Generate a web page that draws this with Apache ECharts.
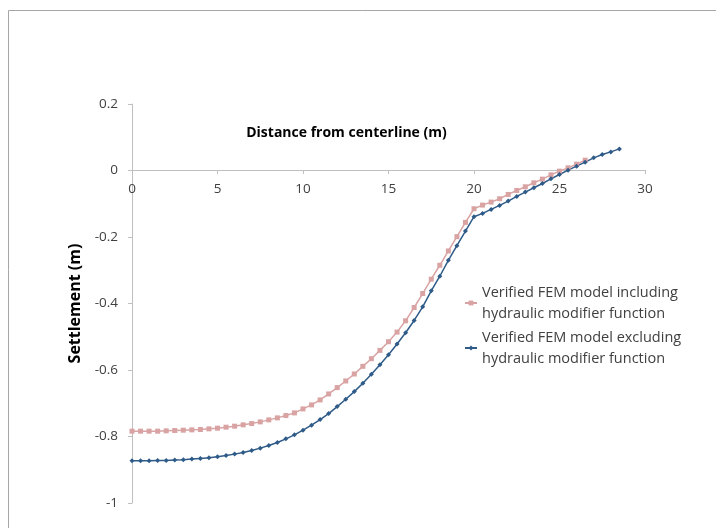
<!DOCTYPE html>
<html>
<head>
<meta charset="utf-8">
<script src="https://cdn.jsdelivr.net/npm/echarts@6/dist/echarts.min.js"></script>
<style>
html,body{margin:0;padding:0;background:#fff;}
#c{width:716px;height:528px;}
</style>
</head>
<body>
<div id="c"></div>
<script>
var xIncl = [0,0.5,1,1.5,2,2.5,3,3.5,4,4.5,5,5.5,6,6.5,7,7.5,8,8.5,9,9.5,10,10.5,11,11.5,12,12.5,13,13.5,14,14.5,15,15.5,16,16.5,17,17.5,18,18.5,19,19.5,20,20.5,21,21.5,22,22.5,23,23.5,24,24.5,25,25.5,26,26.5];
var yIncl = [-0.784,-0.784,-0.784,-0.784,-0.783,-0.782,-0.781,-0.780,-0.779,-0.777,-0.775,-0.772,-0.769,-0.765,-0.761,-0.756,-0.750,-0.744,-0.737,-0.729,-0.717,-0.705,-0.690,-0.672,-0.653,-0.633,-0.612,-0.589,-0.566,-0.541,-0.515,-0.486,-0.452,-0.412,-0.370,-0.327,-0.285,-0.242,-0.199,-0.156,-0.115,-0.104,-0.095,-0.085,-0.072,-0.060,-0.049,-0.037,-0.026,-0.013,-0.002,0.008,0.019,0.031];
var xExcl = [0,0.5,1,1.5,2,2.5,3,3.5,4,4.5,5,5.5,6,6.5,7,7.5,8,8.5,9,9.5,10,10.5,11,11.5,12,12.5,13,13.5,14,14.5,15,15.5,16,16.5,17,17.5,18,18.5,19,19.5,20,20.5,21,21.5,22,22.5,23,23.5,24,24.5,25,25.5,26,26.5,27,27.5,28,28.5];
var yExcl = [-0.873,-0.873,-0.873,-0.872,-0.872,-0.871,-0.870,-0.868,-0.866,-0.864,-0.861,-0.857,-0.853,-0.848,-0.842,-0.835,-0.827,-0.818,-0.807,-0.795,-0.781,-0.766,-0.749,-0.731,-0.710,-0.688,-0.665,-0.640,-0.613,-0.584,-0.554,-0.522,-0.488,-0.451,-0.410,-0.362,-0.318,-0.270,-0.226,-0.182,-0.139,-0.129,-0.117,-0.105,-0.092,-0.078,-0.065,-0.052,-0.039,-0.025,-0.012,0.001,0.013,0.025,0.038,0.048,0.056,0.065];
var seriesNames = ['Verified FEM model including\nhydraulic modifier function','Verified FEM model excluding\nhydraulic modifier function'];
var xTitle = 'Distance from centerline (m)';
var yTitle = 'Settlement (m)';

function pairs(xs, ys){ return xs.map(function(x,i){ return [x, ys[i]]; }); }

var chart = echarts.init(document.getElementById('c'), null, {renderer:'canvas'});
var font = '"Open Sans", "Liberation Sans", sans-serif';
var gridTop = 104, gridBottom = 25, yMin = -1, yMax = 0.2;
var plotH = 528 - gridTop - gridBottom;
var zeroOffset = -Math.round(plotH * (0 - yMin) / (yMax - yMin));
chart.setOption({
  animation:false,
  backgroundColor:'#fff',
  textStyle:{fontFamily:font},
  graphic:[{
    type:'rect', silent:true,
    shape:{x:8.5,y:10.5,width:900,height:700},
    style:{fill:'none',stroke:'#a6a6a6',lineWidth:1}
  }],
  grid:{left:132,right:71,top:gridTop,bottom:gridBottom,containLabel:false,outerBoundsMode:'none'},
  legend:{
    orient:'vertical', left:459, top:277,
    itemWidth:12, itemHeight:6, itemGap:3,
    textStyle:{fontSize:14.5,color:'#404040',lineHeight:21,fontFamily:font},
    data:seriesNames
  },
  xAxis:{
    type:'value', min:0, max:30, interval:5,
    position:'bottom', offset:zeroOffset,
    name:xTitle, nameLocation:'middle', nameGap:-44,
    nameTextStyle:{fontSize:14,fontWeight:'bold',color:'#000',fontFamily:font,padding:[0,84,0,0]},
    axisLine:{onZero:false,lineStyle:{color:'#bfbfbf'}},
    axisTick:{show:true,length:4,lineStyle:{color:'#bfbfbf'}},
    axisLabel:{fontSize:13.5,color:'#404040',margin:12},
    splitLine:{show:false}
  },
  yAxis:{
    type:'value', min:yMin, max:yMax, interval:0.2,
    name:yTitle, nameLocation:'middle', nameGap:48,
    nameTextStyle:{fontSize:16,fontWeight:'bold',color:'#000',fontFamily:font},
    axisLine:{show:true,lineStyle:{color:'#bfbfbf'}},
    axisTick:{show:true,length:4,lineStyle:{color:'#bfbfbf'}},
    axisLabel:{fontSize:13.5,color:'#404040',margin:14,
      formatter:function(v){ return String(Math.round(v*10)/10); }},
    splitLine:{show:false}
  },
  series:[{
    name:seriesNames[0], type:'line', data:pairs(xIncl,yIncl),
    symbol:'rect', symbolSize:5, showAllSymbol:true,
    lineStyle:{color:'#d9a3a3',width:1.5},
    itemStyle:{color:'#d9a3a3'}
  },{
    name:seriesNames[1], type:'line', data:pairs(xExcl,yExcl),
    symbol:'diamond', symbolSize:5, showAllSymbol:true,
    lineStyle:{color:'#2f5b88',width:1.5},
    itemStyle:{color:'#2f5b88'}
  }]
});
</script>
</body>
</html>
